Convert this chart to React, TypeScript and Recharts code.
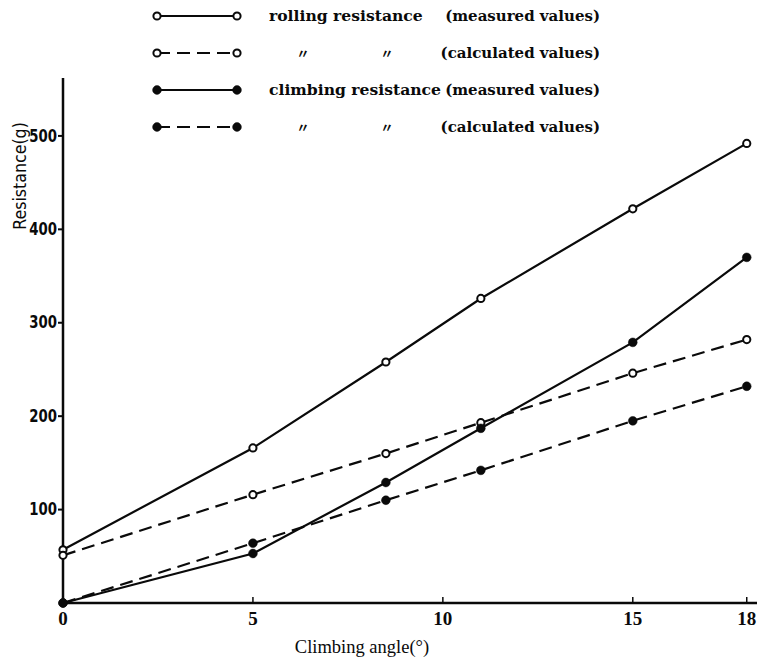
import React from 'react';
import { LineChart, Line, XAxis, YAxis, Legend } from 'recharts';

const angles = [0, 5, 8.5, 11, 15, 18];
const rollingMeasured = [57, 166, 258, 326, 422, 492];
const rollingCalculated = [51, 116, 160, 193, 246, 282];
const climbingMeasured = [0, 53, 129, 187, 279, 370];
const climbingCalculated = [0, 64, 110, 142, 195, 232];

const xTicks = [0, 5, 10, 15, 18];
const yTicks = [100, 200, 300, 400, 500];

const legendNames = ['rolling resistance', '', 'climbing resistance', ''];
const legendNotes = ['(measured values)', '(calculated values)', '(measured values)', '(calculated values)'];
const DITTO = '〃';

const xLabel = 'Climbing angle(°)';
const yLabel = 'Resistance(g)';

const data = angles.map((a, i) => ({
  angle: a,
  rm: rollingMeasured[i],
  rc: rollingCalculated[i],
  cm: climbingMeasured[i],
  cc: climbingCalculated[i],
}));

const series = [
  { key: 'rm', dashed: false, filled: false },
  { key: 'rc', dashed: true, filled: false },
  { key: 'cm', dashed: false, filled: true },
  { key: 'cc', dashed: true, filled: true },
];

const INK = '#0a0a0a';
const DASH = '13 7';
const SANS = "'DejaVu Sans', sans-serif";

const openDot = { r: 3.6, stroke: INK, strokeWidth: 2, fill: '#fff', strokeDasharray: 'none' };
const filledDot = { r: 4.4, stroke: INK, strokeWidth: 0.5, fill: INK, strokeDasharray: 'none' };

const XTick = (props: any) => {
  const { x, y, payload } = props;
  return (
    <g>
      {payload.value !== 0 && (
        <line x1={x} x2={x} y1={y} y2={y - 6} stroke={INK} strokeWidth={1.5} />
      )}
      <text
        x={x}
        y={y + 22}
        textAnchor="middle"
        fontFamily="'Liberation Serif', serif"
        fontWeight="bold"
        fontSize={19}
        fill={INK}
      >
        {payload.value}
      </text>
    </g>
  );
};

const YTick = (props: any) => {
  const { x, y, payload } = props;
  return (
    <g transform={`translate(${x + 1}, ${y}) scale(0.76, 1)`}>
      <text
        x={0}
        y={0}
        textAnchor="end"
        dominantBaseline="central"
        fontFamily={SANS}
        fontWeight="bold"
        fontSize={17.5}
        fill={INK}
      >
        {payload.value}
      </text>
    </g>
  );
};

const LegendContent = () => {
  const rows = [16, 53, 90, 127];
  return (
    <svg width={759} height={145} style={{ display: 'block' }}>
      {series.map((s, i) => {
        const y = rows[i];
        const dot = s.filled ? filledDot : openDot;
        return (
          <g key={s.key}>
            <line
              x1={157}
              x2={237}
              y1={y}
              y2={y}
              stroke={INK}
              strokeWidth={2.2}
              strokeDasharray={s.dashed ? DASH : undefined}
            />
            <circle cx={157} cy={y} r={dot.r} fill={dot.fill} stroke={dot.stroke} strokeWidth={dot.strokeWidth} />
            <circle cx={237} cy={y} r={dot.r} fill={dot.fill} stroke={dot.stroke} strokeWidth={dot.strokeWidth} />
            {legendNames[i] ? (
              <text
                x={269}
                y={y + 5}
                fontFamily="'DejaVu Serif', serif"
                fontWeight="bold"
                fontSize={15.6}
                fill={INK}
              >
                {legendNames[i]}
              </text>
            ) : (
              <g fontFamily="'Noto Sans CJK JP', sans-serif" fontSize={13} fill={INK} fontWeight="bold">
                <text x={303} y={y + 5} textAnchor="middle">{DITTO}</text>
                <text x={387} y={y + 5} textAnchor="middle">{DITTO}</text>
              </g>
            )}
            <text
              x={600}
              y={y + 5}
              textAnchor="end"
              fontFamily="'DejaVu Serif', serif"
              fontWeight="bold"
              fontSize={15}
              fill={INK}
            >
              {legendNotes[i]}
            </text>
          </g>
        );
      })}
    </svg>
  );
};

const YAxisLabel = (props: any) => {
  const { viewBox } = props;
  const x = viewBox.x + 20;
  const y = viewBox.y + 98;
  return (
    <g transform={`translate(${x}, ${y}) rotate(-90) scale(0.88, 1)`}>
      <text
        x={0}
        y={0}
        textAnchor="middle"
        dominantBaseline="central"
        fontFamily={SANS}
        fontSize={18}
        fill={INK}
      >
        {yLabel}
      </text>
    </g>
  );
};

const XAxisLabel = (props: any) => {
  const { viewBox } = props;
  return (
    <text
      x={viewBox.x + 299}
      y={viewBox.y + 50}
      textAnchor="middle"
      fontFamily="'Liberation Serif', serif"
      fontSize={18.5}
      fill={INK}
    >
      {xLabel}
    </text>
  );
};

export default function App() {
  return (
    <div style={{ position: 'absolute', left: 0, top: 0, width: 759, height: 665, background: '#fff' }}>
      <LineChart
        width={759}
        height={665}
        data={data}
        margin={{ top: 78, right: 2, bottom: 22, left: 0 }}
      >
        <XAxis
          dataKey="angle"
          type="number"
          domain={[0, 18.27]}
          ticks={xTicks}
          tickLine={false}
          tickSize={0}
          tickMargin={0}
          tick={<XTick />}
          axisLine={{ stroke: INK, strokeWidth: 2.5 }}
          height={40}
          label={<XAxisLabel />}
        />
        <YAxis
          type="number"
          domain={[0, 562]}
          ticks={yTicks}
          width={63}
          tickSize={5}
          tickMargin={2}
          tickLine={{ stroke: INK, strokeWidth: 2 }}
          axisLine={{ stroke: INK, strokeWidth: 2.5 }}
          tick={<YTick />}
          label={<YAxisLabel />}
        />
        <Legend
          layout="vertical"
          align="center"
          verticalAlign="middle"
          content={<LegendContent />}
          wrapperStyle={{ position: 'absolute', top: 0, left: 0, width: 759, height: 145 }}
        />
        {series.map((s) => (
          <Line
            key={s.key}
            dataKey={s.key}
            type="linear"
            stroke={INK}
            strokeWidth={2.2}
            strokeDasharray={s.dashed ? DASH : undefined}
            dot={s.filled ? filledDot : openDot}
            activeDot={false}
            isAnimationActive={false}
          />
        ))}
      </LineChart>
    </div>
  );
}
